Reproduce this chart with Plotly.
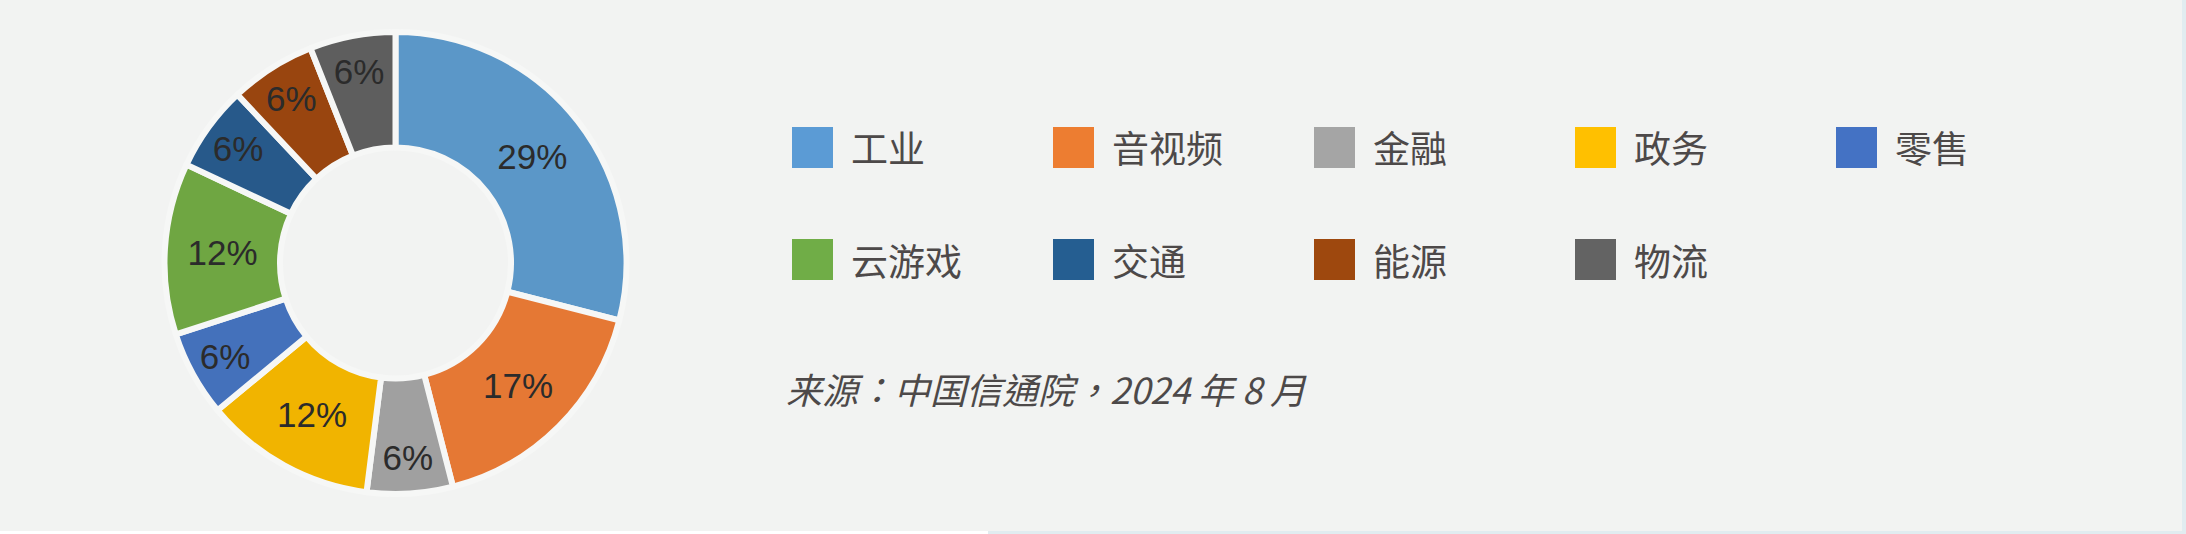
import plotly.graph_objects as go

W, H = 2186, 534

# 各行业占比（%）
industries = ["工业", "音视频", "金融", "政务", "零售", "云游戏", "交通", "能源", "物流"]
shares = [29, 17, 6, 12, 6, 12, 6, 6, 6]
slice_colors = ["#5b97c8", "#e57834", "#a0a0a0", "#f1b400", "#4471bb", "#6fa642", "#27598a", "#99450f", "#5e5e5e"]
legend_colors = ["#5b9bd5", "#ed7d31", "#a5a5a5", "#ffc000", "#4472c4", "#70ad47", "#255e91", "#9e480e", "#636363"]
source_note = "来源：中国信通院，2024 年 8 月"

bg = "#f2f3f2"
text_color = "#4d4949"
cjk = "Noto Sans CJK SC"

fig = go.Figure()

# donut, starts at 12 o'clock and goes clockwise; gaps drawn in the page colour
fig.add_trace(go.Pie(
    labels=industries,
    values=shares,
    sort=False,
    direction="clockwise",
    rotation=0,
    hole=0.5,
    marker=dict(colors=slice_colors, line=dict(color="#f6f7f6", width=6)),
    texttemplate="%{value}%",
    textposition="inside",
    insidetextorientation="horizontal",
    textfont=dict(family="Liberation Sans, Arial", size=35, color="#2b2b2b"),
    hoverinfo="label+percent",
    showlegend=False,
    domain=dict(x=[164.5 / W, 626.5 / W], y=[(H - 494) / H, (H - 32) / H]),
))

# Legend: 5 per row, big square swatch + label
shapes = []
annotations = []
col_w = 261
sq = 41
for i, (name, color) in enumerate(zip(industries, legend_colors)):
    row, col = divmod(i, 5)
    x0 = 792 + col * col_w
    yc = 147.5 + row * 112
    shapes.append(dict(
        type="rect", xref="paper", yref="paper",
        x0=x0 / W, x1=(x0 + sq) / W,
        y0=(H - yc - sq / 2) / H, y1=(H - yc + sq / 2) / H,
        fillcolor=color, line=dict(width=0),
    ))
    annotations.append(dict(
        text=name, xref="paper", yref="paper",
        x=(x0 + sq + 16) / W, y=(H - yc) / H,
        xanchor="left", yanchor="middle", showarrow=False,
        font=dict(family=cjk, size=37, color=text_color),
    ))

# source note (TC face keeps the full-width punctuation centred, as in the original)
annotations.append(dict(
    text=source_note, xref="paper", yref="paper",
    x=784 / W, y=(H - 388) / H,
    xanchor="left", yanchor="middle", showarrow=False,
    font=dict(family="Noto Sans CJK TC", size=36, color=text_color, style="italic"),
))

# thin light border on the right / bottom of the original picture
shapes.append(dict(type="rect", xref="paper", yref="paper",
                   x0=(W - 4) / W, x1=1, y0=0, y1=1,
                   fillcolor="#e1ecf0", line=dict(width=0)))
shapes.append(dict(type="rect", xref="paper", yref="paper",
                   x0=0, x1=988 / W, y0=0, y1=3 / H,
                   fillcolor="#ffffff", line=dict(width=0)))
shapes.append(dict(type="rect", xref="paper", yref="paper",
                   x0=988 / W, x1=1, y0=0, y1=3 / H,
                   fillcolor="#e1ecf0", line=dict(width=0)))

fig.update_layout(
    width=W, height=H,
    margin=dict(l=0, r=0, t=0, b=0),
    paper_bgcolor=bg,
    plot_bgcolor=bg,
    shapes=shapes,
    annotations=annotations,
)

# drop the browser's default body margin so the figure fills the window
fig.write_html("out.html", config={"displayModeBar": False},
               post_script="document.body.style.margin='0';")
